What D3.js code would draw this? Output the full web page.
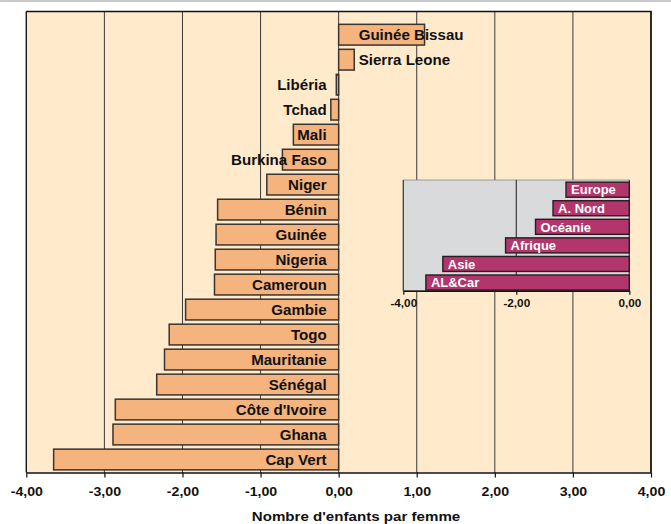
<!DOCTYPE html>
<html>
<head>
<meta charset="utf-8">
<script src="https://cdn.jsdelivr.net/npm/d3@7"></script>
<style>
  html, body { margin: 0; padding: 0; background: #ffffff; }
  svg { display: block; font-family: "Liberation Sans", Arial, Helvetica, sans-serif; }
</style>
</head>
<body>
<svg id="chart" width="671" height="524"></svg>
<script>
// Variation du nombre d'enfants par femme, pays d'Afrique de l'Ouest
const countries = ["Guinée Bissau", "Sierra Leone", "Libéria", "Tchad", "Mali", "Burkina Faso",
  "Niger", "Bénin", "Guinée", "Nigeria", "Cameroun", "Gambie", "Togo", "Mauritanie",
  "Sénégal", "Côte d'Ivoire", "Ghana", "Cap Vert"];
const countryValues = [1.10, 0.20, -0.03, -0.10, -0.58, -0.72, -0.92, -1.55, -1.57, -1.58,
  -1.59, -1.96, -2.17, -2.23, -2.33, -2.86, -2.89, -3.65];
const xTicks = [-4, -3, -2, -1, 0, 1, 2, 3, 4];

// Encart : grandes régions du monde
const regions = ["Europe", "A. Nord", "Océanie", "Afrique", "Asie", "AL&Car"];
const regionValues = [-1.12, -1.35, -1.66, -2.19, -3.30, -3.60];
const insetTicks = [-4, -2, 0];

const axisTitle = "Nombre d'enfants par femme";

const fr = d3.formatLocale({ decimal: ",", thousands: " ", grouping: [3], currency: ["", " €"], minus: "-" });
const fmt = fr.format(".2f");

const svg = d3.select("#chart");

// outer frame line at the top of the chart area
svg.append("line")
  .attr("x1", 0).attr("x2", 671).attr("y1", 1).attr("y2", 1)
  .attr("stroke", "#c9c9c9").attr("stroke-width", 2);

// ---------- main chart ----------
const plot = { left: 26.3, right: 651, top: 11.5, bottom: 472.5 };

const x = d3.scaleLinear().domain([-4, 4]).range([plot.left, plot.right]);
const y = d3.scaleBand().domain(countries).range([22.2, 472])
  .paddingInner(0.17).paddingOuter(0.085);

svg.append("rect")
  .attr("x", plot.left).attr("y", plot.top)
  .attr("width", plot.right - plot.left).attr("height", plot.bottom - plot.top)
  .attr("fill", "#FFEBCC");

// vertical gridlines
svg.append("g")
  .selectAll("line")
  .data(xTicks)
  .join("line")
  .attr("x1", d => x(d)).attr("x2", d => x(d))
  .attr("y1", plot.top).attr("y2", plot.bottom)
  .attr("stroke", "#3a3a3a").attr("stroke-width", 1);

// plot frame (top and right)
svg.append("path")
  .attr("d", `M${plot.left},${plot.top}H${plot.right}V${plot.bottom}`)
  .attr("fill", "none").attr("stroke", "#111").attr("stroke-width", 1.6);
svg.append("line")
  .attr("x1", plot.left).attr("x2", plot.left)
  .attr("y1", plot.top).attr("y2", plot.bottom)
  .attr("stroke", "#111").attr("stroke-width", 1.2);

// bars
svg.append("g")
  .selectAll("rect")
  .data(countries)
  .join("rect")
  .attr("x", (d, i) => x(Math.min(0, countryValues[i])))
  .attr("y", d => y(d))
  .attr("width", (d, i) => Math.abs(x(countryValues[i]) - x(0)))
  .attr("height", y.bandwidth())
  .attr("fill", "#F5B37D")
  .attr("stroke", "#3b3330").attr("stroke-width", 1.5);

// country labels
svg.append("g")
  .selectAll("text")
  .data(countries)
  .join("text")
  .attr("x", (d, i) => countryValues[i] >= 0 ? x(0) + 20 : x(0) - 12)
  .attr("y", d => y(d) + y.bandwidth() / 2 + 5.3)
  .attr("text-anchor", (d, i) => countryValues[i] >= 0 ? "start" : "end")
  .attr("font-size", 15.1).attr("font-weight", "bold").attr("fill", "#111")
  .text(d => d);

// bottom axis
const xAxis = svg.append("g")
  .attr("transform", `translate(0,${plot.bottom})`)
  .call(d3.axisBottom(x).tickValues(xTicks).tickFormat(fmt).tickSize(5).tickSizeOuter(0).tickPadding(10));
xAxis.select(".domain").attr("stroke", "#111").attr("stroke-width", 1.6);
xAxis.selectAll(".tick line").attr("stroke", "#111").attr("stroke-width", 1.2);
xAxis.selectAll(".tick text")
  .attr("font-size", 12).attr("font-weight", "bold").attr("fill", "#111")
  .attr("font-family", "Liberation Sans, Arial, sans-serif")
  .attr("transform", "scale(1.18,1)");

// axis title
svg.append("g")
  .attr("transform", "translate(356,521) scale(1.12,1)")
  .append("text")
  .attr("text-anchor", "middle")
  .attr("font-size", 13.5).attr("font-weight", "bold").attr("fill", "#111")
  .text(axisTitle);

// ---------- inset chart ----------
const inset = { left: 403.3, right: 629.3, top: 180, bottom: 290.7 };
const xi = d3.scaleLinear().domain([-4, 0]).range([inset.left, inset.right]);
const yi = d3.scaleBand().domain(regions).range([180.4, 291.8])
  .paddingInner(0.19).paddingOuter(0.095);

const ig = svg.append("g");
ig.append("rect")
  .attr("x", inset.left).attr("y", inset.top)
  .attr("width", inset.right - inset.left).attr("height", inset.bottom - inset.top)
  .attr("fill", "#D9DADC").attr("stroke", "#8a8a8a").attr("stroke-width", 0.8);

ig.selectAll("line.grid")
  .data(insetTicks)
  .join("line")
  .attr("class", "grid")
  .attr("x1", d => xi(d)).attr("x2", d => xi(d))
  .attr("y1", inset.top).attr("y2", inset.bottom)
  .attr("stroke", "#3a3a3a").attr("stroke-width", 1.2);

ig.selectAll("rect.bar")
  .data(regions)
  .join("rect")
  .attr("class", "bar")
  .attr("x", (d, i) => xi(regionValues[i]))
  .attr("y", d => yi(d))
  .attr("width", (d, i) => xi(0) - xi(regionValues[i]))
  .attr("height", yi.bandwidth())
  .attr("fill", "#B2366B")
  .attr("stroke", "#2a1a20").attr("stroke-width", 1.4);

ig.selectAll("text.lab")
  .data(regions)
  .join("text")
  .attr("class", "lab")
  .attr("x", (d, i) => xi(regionValues[i]) + 5)
  .attr("y", d => yi(d) + yi.bandwidth() / 2 + 4.7)
  .attr("font-size", 13).attr("font-weight", "bold").attr("fill", "#ffffff")
  .text(d => d);

const ia = ig.append("g")
  .attr("transform", `translate(0,${inset.bottom})`)
  .call(d3.axisBottom(xi).tickValues(insetTicks).tickFormat(fmt).tickSize(4).tickSizeOuter(0).tickPadding(5));
ia.select(".domain").attr("stroke", "#111").attr("stroke-width", 1.4);
ia.selectAll(".tick line").attr("stroke", "#111").attr("stroke-width", 1.2);
ia.selectAll(".tick text")
  .attr("font-size", 10.2).attr("font-weight", "bold").attr("fill", "#111")
  .attr("font-family", "Liberation Sans, Arial, sans-serif")
  .attr("transform", "scale(1.15,1)");
</script>
</body>
</html>
